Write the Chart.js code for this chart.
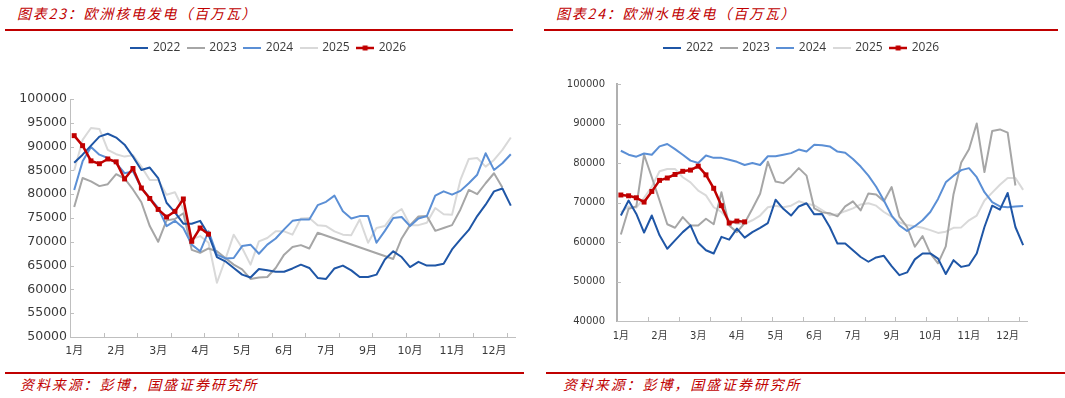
<!DOCTYPE html>
<html>
<head>
<meta charset="utf-8">
<script src="https://cdn.jsdelivr.net/npm/chart.js@4.4.1/dist/chart.umd.min.js"></script>
<style>
body { margin: 0; background: #fff; }
#page { position: relative; width: 1065px; height: 398px; overflow: hidden; background: #fff; }
.titulo { position: absolute; top: 3px; line-height: 20px; font: italic 14px "Noto Sans CJK SC", sans-serif; letter-spacing: 1.8px; color: #c00000; white-space: nowrap; }
.regla { position: absolute; height: 2px; background: #c00000; }
.fuente { position: absolute; top: 374px; line-height: 20px; font: italic 14px "Noto Sans CJK SC", sans-serif; letter-spacing: 1.9px; color: #c00000; white-space: nowrap; }
canvas { position: absolute; top: 34px; }
</style>
</head>
<body>
<div id="page">
    <div class="titulo" style="left:17px">图表23：欧洲核电发电（百万瓦）</div>
    <div class="titulo" style="left:556px">图表24：欧洲水电发电（百万瓦）</div>
    <div class="regla" style="left:5px; top:29px; width:508px"></div>
    <div class="regla" style="left:544px; top:29px; width:514px"></div>

    <canvas id="chartNuclear" width="538" height="331" style="left:0px"></canvas>
    <canvas id="chartHidro" width="514" height="331" style="left:545px"></canvas>

    <div class="regla" style="left:5px; top:372px; width:519px"></div>
    <div class="regla" style="left:546px; top:372px; width:519px"></div>
    <div class="fuente" style="left:20px">资料来源：彭博，国盛证券研究所</div>
    <div class="fuente" style="left:563px">资料来源：彭博，国盛证券研究所</div>
</div>

<script>
// semanas del año (53) y etiquetas que se muestran cada 5 semanas
var semanas = ['S1','S2','S3','S4','S5','S6','S7','S8','S9','S10','S11','S12','S13','S14','S15','S16','S17','S18',
    'S19','S20','S21','S22','S23','S24','S25','S26','S27','S28','S29','S30','S31','S32','S33','S34','S35','S36',
    'S37','S38','S39','S40','S41','S42','S43','S44','S45','S46','S47','S48','S49','S50','S51','S52','S53'];
var etiquetasMes = ['1月','2月','3月','4月','5月','6月','7月','9月','10月','11月','12月'];
var anios = ['2022','2023','2024','2025','2026'];

// 欧洲核电发电
var nuclear2022 = [86600, 88300, 90200, 92100, 92700, 91900, 90400, 87900, 85100, 85600, 83400, 78200, 76200, 73800, 73800, 74400,
    71500, 66800, 65900, 64500, 63100, 62500, 64300, 64000, 63700, 63700, 64400, 65200, 64500, 62400, 62200, 64400, 65000, 64000,
    62600, 62600, 63100, 66300, 68000, 66800, 64700, 65800, 65000, 65000, 65400, 68400, 70500, 72500, 75400, 77800, 80600, 81200, 77600];
var nuclear2023 = [77300, 83400, 82700, 81700, 82100, 84200, 83300, 81000, 78300, 73300, 70000, 74500, 74800, 76000, 68300, 67700,
    68600, 68000, 66600, 65200, 64200, 62200, 62500, 62600, 64500, 67300, 68900, 69300, 68600, 71900, null, null, null, null,
    null, null, null, null, 66400, 70700, 73500, 75300, 75400, 72300, 72900, 73500, 76800, 80900, 80000, 82300, 84400, 81400, null];
var nuclear2024 = [80900, 86900, 89900, 88300, 87600, 86500, 84400, 84800, 81300, 79200, 77100, 73300, 74400, 72900, 69400, 68000,
    72200, 67300, 66500, 66600, 69100, 69400, 67500, 69400, 70700, 72600, 74400, 74700, 74700, 77700, 78400, 79700, 76400, 74900,
    75400, 75400, 69800, 72300, 75000, 75200, 73300, 74900, 75400, 79700, 80600, 79900, 80700, 82300, 84100, 88600, 85100, 86500, 88400];
var nuclear2025 = [85000, 91400, 93900, 93700, 89300, 88400, 87900, 88200, 85800, 83000, 83000, 79900, 80400, 76800, 70500, 71200,
    69800, 61400, 66300, 71500, 68700, 65200, 70100, 70800, 72200, 72200, 71500, 74900, 75000, 73500, 73300, 72200, 71500, 71400,
    74700, 69800, 72900, 73300, 75700, 76900, 73500, 73500, 74000, 77100, 75800, 75700, 83000, 87400, 87600, 85800, 87200, 89300, 91900];
var nuclear2026 = [92300, 90200, 87000, 86400, 87400, 86800, 83200, 85400, 81300, 79100, 76800, 75200, 76400, 79000, 70100, 72900, 71600];

// 欧洲水电发电
var hidro2022 = [66700, 70500, 67100, 62400, 66700, 61700, 58300, 60400, 62500, 64200, 59800, 57900, 57100, 61300, 60600, 63400,
    61100, 62500, 63600, 64800, 70700, 68400, 66700, 69000, 69800, 67000, 67100, 63800, 59600, 59600, 57900, 56200, 55000, 56100,
    56500, 53900, 51600, 52300, 55600, 57100, 57100, 55800, 51900, 55400, 53700, 54100, 57100, 63800, 69200, 68200, 72400, 63800, 59200];
var hidro2023 = [61900, 68400, 69000, 82100, 76400, 70500, 64500, 63600, 66300, 64200, 64200, 65900, 64500, 72600, 64200, 62500,
    64800, 68400, 72200, 80300, 75300, 74900, 76600, 78700, 76800, 68500, 67500, 67300, 66500, 69000, 70300, 68000, 72300, 72000,
    70300, 73900, 66400, 63800, 58800, 61500, 57100, 54600, 58900, 72100, 80100, 83500, 90000, 77700, 88100, 88500, 87700, 74300, null];
var hidro2024 = [83100, 82100, 81600, 82400, 82100, 84200, 84800, 83500, 82100, 80600, 80000, 81900, 81300, 81300, 80800, 80300,
    79500, 80000, 79500, 81700, 81700, 82100, 82500, 83400, 82900, 84600, 84500, 84200, 82900, 82600, 81000, 79100, 76800, 74000,
    70500, 66700, 64200, 62800, 64000, 65500, 67600, 70900, 75100, 76800, 78200, 78700, 76400, 72600, 70100, 69000, 68800, 69000, 69100];
var hidro2025 = [67500, 69000, 68700, 71200, 74000, 77900, 78500, 78500, 76400, 75100, 73000, 71800, 68800, 67600, 65500, 64600,
    64600, 65500, 66700, 68800, 69200, 68800, 69200, 70300, 69700, 69300, 68100, 66800, 67000, 67800, 68500, 69500, 69800, 69200,
    67600, 66400, 65000, 64300, 64000, 63600, 63000, 62300, 62600, 63600, 63700, 65500, 66700, 70500, 72500, 74500, 76200, 76200, 73200];
var hidro2026 = [71900, 71700, 71200, 70100, 72800, 75600, 76200, 77100, 77900, 78200, 79200, 77000, 73600, 69200, 64800, 65300, 65100];

var colores = {
    '2022': '#1f56a6',
    '2023': '#a6a6a6',
    '2024': '#5b8fd5',
    '2025': '#d9d9d9',
    '2026': '#c00000'
};
var colorEje = '#bfbfbf';
var colorTexto = '#3a3a3a';
var fuenteEjes = '"DejaVu Sans", "Noto Sans CJK SC", sans-serif';

// muestras de la leyenda: linea (y cuadrado para 2026)
var muestras = {};
anios.forEach(function (anio) {
    var c = document.createElement('canvas');
    c.width = 18;
    c.height = 8;
    var g = c.getContext('2d');
    g.strokeStyle = colores[anio];
    g.lineWidth = anio === '2026' ? 2.5 : 2;
    g.beginPath();
    g.moveTo(0, 4);
    g.lineTo(18, 4);
    g.stroke();
    if (anio === '2026') {
        g.fillStyle = colores[anio];
        g.fillRect(6.5, 1.5, 5, 5);
    }
    muestras[anio] = c;
});

function serie(anio, datos) {
    var esActual = anio === '2026';
    return {
        label: anio,
        data: datos,
        borderColor: colores[anio],
        backgroundColor: colores[anio],
        borderWidth: esActual ? 2.5 : 2,
        borderJoinStyle: 'round',
        tension: 0,
        spanGaps: true,
        fill: false,
        pointStyle: 'rect',
        pointRadius: esActual ? 3.5 : 0,
        pointBorderWidth: 0,
        pointBackgroundColor: colores[anio]
    };
}

// marcas de los ejes hacia adentro (como en excel)
var marcasInternas = {
    id: 'marcasInternas',
    afterDraw: function (chart) {
        var ctx = chart.ctx, xs = chart.scales.x, ys = chart.scales.y;
        ctx.save();
        ctx.strokeStyle = colorEje;
        ctx.lineWidth = 1;
        ctx.beginPath();
        for (var i = 4; i < semanas.length; i += 4) {
            var px = Math.round((xs.getPixelForValue(i - 1) + xs.getPixelForValue(i)) / 2) + 0.5;
            ctx.moveTo(px, ys.bottom);
            ctx.lineTo(px, ys.bottom - 4);
        }
        ys.ticks.forEach(function (t) {
            var py = Math.round(ys.getPixelForValue(t.value)) + 0.5;
            ctx.moveTo(xs.left, py);
            ctx.lineTo(xs.left + 4, py);
        });
        ctx.stroke();
        ctx.restore();
    }
};

// alto fijo de la leyenda y centrada en todo el lienzo
function altoLeyenda(alto) {
    return {
        id: 'altoLeyenda',
        beforeInit: function (chart) {
            var fitOriginal = chart.legend.fit;
            chart.legend.fit = function () {
                fitOriginal.call(this);
                this.height = alto;
            };
        },
        afterLayout: function (chart) {
            chart.legend.left = 0;
            chart.legend.right = chart.width;
        }
    };
}

function crearGrafico(id, series, cfg) {
    return new Chart(document.getElementById(id), {
        type: 'line',
        data: {
            labels: semanas,
            // orden de dibujo: 2026 encima de todo
            datasets: [
                serie('2026', series['2026']),
                serie('2022', series['2022']),
                serie('2024', series['2024']),
                serie('2023', series['2023']),
                serie('2025', series['2025'])
            ]
        },
        options: {
            responsive: false,
            animation: false,
            layout: { padding: { left: 0, right: cfg.padDerecha, top: 0, bottom: 0 } },
            plugins: {
                tooltip: { enabled: false },
                legend: {
                    display: true,
                    position: 'top',
                    labels: {
                        usePointStyle: true,
                        pointStyleWidth: 15,
                        padding: 8,
                        color: colorTexto,
                        font: { family: '"Open Sans", sans-serif', size: 12 },
                        generateLabels: function (chart) {
                            var items = Chart.defaults.plugins.legend.labels.generateLabels(chart);
                            items.forEach(function (it) {
                                it.pointStyle = muestras[it.text];
                            });
                            items.sort(function (a, b) { return a.text.localeCompare(b.text); });
                            return items;
                        }
                    }
                }
            },
            scales: {
                x: {
                    offset: true,
                    grid: { display: false, drawTicks: false, offset: true },
                    border: { display: true, color: colorEje, width: 1 },
                    ticks: {
                        autoSkip: false,
                        maxRotation: 0,
                        padding: cfg.padX,
                        color: colorTexto,
                        font: { family: fuenteEjes, size: cfg.tamX },
                        callback: function (valor, idx) {
                            return idx % 5 === 0 ? etiquetasMes[idx / 5] : '';
                        }
                    },
                    afterFit: function (scale) { scale.height = cfg.altoX; }
                },
                y: {
                    min: cfg.min,
                    max: cfg.max,
                    grid: { display: false, drawTicks: false },
                    border: { display: true, color: cfg.colorEjeY, width: cfg.anchoEjeY },
                    ticks: {
                        stepSize: cfg.paso,
                        padding: cfg.padY,
                        color: colorTexto,
                        font: { family: fuenteEjes, size: cfg.tamY },
                        callback: function (valor) { return String(valor); }
                    },
                    afterFit: function (scale) { scale.width = cfg.anchoY; }
                }
            }
        },
        plugins: [marcasInternas, altoLeyenda(cfg.altoLeyenda)]
    });
}

var graficoNuclear = crearGrafico('chartNuclear', {
    '2022': nuclear2022, '2023': nuclear2023, '2024': nuclear2024, '2025': nuclear2025, '2026': nuclear2026
}, {
    min: 50000, max: 100000, paso: 5000,
    padDerecha: 23, altoLeyenda: 65, altoX: 28, anchoY: 70,
    padX: 8, padY: 3, tamX: 11, tamY: 12.5,
    colorEjeY: colorEje, anchoEjeY: 1
});

var graficoHidro = crearGrafico('chartHidro', {
    '2022': hidro2022, '2023': hidro2023, '2024': hidro2024, '2025': hidro2025, '2026': hidro2026
}, {
    min: 40000, max: 100000, paso: 10000,
    padDerecha: 32, altoLeyenda: 50, altoX: 44, anchoY: 72,
    padX: 9, padY: 12, tamX: 10, tamY: 10,
    colorEjeY: '#b0b0b0', anchoEjeY: 2
});
</script>
</body>
</html>
